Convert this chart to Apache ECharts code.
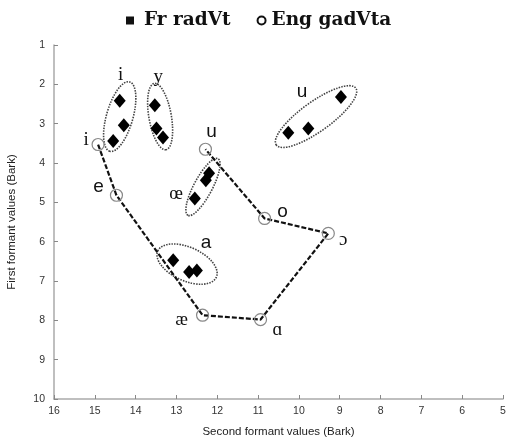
<!DOCTYPE html>
<html>
<head>
<meta charset="utf-8">
<script src="https://cdn.jsdelivr.net/npm/echarts@6/dist/echarts.min.js"></script>
<style>html,body{margin:0;padding:0;background:#fff}#c{width:506px;height:439px}</style>
</head>
<body>
<div id="c"></div>
<script>
// ---- Data (Bark) ----
const xTicks = [5,6,7,8,9,10,11,12,13,14,15,16];
const yTicks = [1,2,3,4,5,6,7,8,9,10];

// French radVt tokens: [F2, F1]
const frI  = [[14.39,2.42],[14.29,3.04],[14.55,3.44]];
const frY  = [[13.53,2.53],[13.49,3.12],[13.33,3.35]];
const frOE = [[12.20,4.26],[12.28,4.44],[12.55,4.90]];
const frA  = [[13.08,6.47],[12.69,6.77],[12.50,6.73]];
const frU  = [[10.26,3.23],[9.77,3.12],[8.97,2.32]];

// English gadVta means, in path order
const engNames = ['i','e','æ','ɑ','ɔ','o','u'];
const engF2    = [14.92,14.47,12.36,10.94,9.28,10.84,12.29];
const engF1    = [3.53,4.82,7.87,7.98,5.79,5.41,3.65];

// French cluster regions: [name, centreF2, centreF1, semiMajor, semiMinor, angleDeg]
const clusterNames = ['i','y','œ','a','u'];
const clusterCx    = [14.39,13.40,12.35,12.74,9.58];
const clusterCy    = [2.82,2.82,4.61,6.57,2.82];
const clusterMajor = [0.90,0.84,0.80,0.80,1.22];
const clusterMinor = [0.33,0.28,0.23,0.42,0.37];
const clusterAngle = [74,100,62,-24,35.6];

// ---- Styles ----
const SERIF = '"Liberation Serif", "Times New Roman", serif';
const SANS = '"Liberation Sans", Arial, sans-serif';
const engLabelStyle = {
  'i': {off:[-12,-4], font:SERIF},
  'e': {off:[-18,-8], font:SANS},
  'æ': {off:[-21,5], font:SERIF},
  'ɑ': {off:[17,10], font:SERIF},
  'ɔ': {off:[15,7], font:SERIF},
  'o': {off:[18,-7], font:SANS},
  'u': {off:[6,-17], font:SANS}
};
const clusterLabelStyle = {
  'i': {off:[1,-42], font:SERIF},
  'y': {off:[-2,-40], font:SERIF},
  'œ': {off:[-27,7], font:SERIF},
  'a': {off:[19,-21], font:SANS},
  'u': {off:[-14,-25], font:SANS}
};

const frAll = [].concat(frI, frY, frOE, frA, frU);
const engData = engNames.map((n,i)=>({
  name:n, value:[engF2[i], engF1[i]],
  label:{show:true, formatter:'{b}', position:'inside', offset:engLabelStyle[n].off,
         fontFamily:engLabelStyle[n].font, fontSize:19, color:'#111'}
}));
const clusterData = clusterNames.map((n,i)=>[clusterCx[i],clusterCy[i],clusterMajor[i],clusterMinor[i],clusterAngle[i],i]);

const chart = echarts.init(document.getElementById('c'), null, {renderer:'canvas'});
const axisCommon = {
  type:'value', splitLine:{show:false},
  axisLine:{show:true, lineStyle:{color:'#aaa', width:1.5}},
  axisTick:{show:true, inside:true, length:4, lineStyle:{color:'#888'}},
  axisLabel:{color:'#333', fontSize:10.5, fontFamily:SANS},
  nameLocation:'middle',
  nameTextStyle:{color:'#222', fontSize:11.5, fontFamily:SANS}
};
chart.setOption({
  animation:false,
  backgroundColor:'#fff',
  legend:{
    left:121, top:6, itemWidth:8, itemHeight:8, itemGap:26,
    textStyle:{fontFamily:'"DejaVu Serif", serif', fontWeight:'bold', fontSize:18.5, color:'#111'},
    data:[
      {name:'Fr radVt', icon:'rect', itemStyle:{color:'#111', borderWidth:0, opacity:1}, textStyle:{padding:[0,0,0,5]}},
      {name:'Eng gadVta', icon:'circle', itemStyle:{color:'rgba(255,255,255,0)', borderColor:'#111', borderWidth:2, opacity:1}, textStyle:{padding:[0,0,0,1]}}
    ]
  },
  grid:{left:54, right:3, top:45, bottom:40, containLabel:false, outerBoundsMode:'none'},
  xAxis:Object.assign({}, axisCommon, {
    inverse:true, min:5, max:16, interval:1,
    name:'Second formant values (Bark)', nameGap:27,
    axisLabel:Object.assign({}, axisCommon.axisLabel, {margin:7})
  }),
  yAxis:Object.assign({}, axisCommon, {
    inverse:true, min:1, max:10, interval:1,
    name:'First formant values (Bark)', nameGap:36,
    axisLabel:Object.assign({}, axisCommon.axisLabel, {margin:9})
  }),
  series:[
    {
      type:'custom', name:'clusters', silent:true, z:1,
      renderItem:function(params, api){
        const c = api.coord([api.value(0), api.value(1)]);
        const s = api.size([1,1]);
        const k = (s[0]+s[1])/2;
        const idx = api.value(5);
        const nm = clusterNames[idx];
        const st = clusterLabelStyle[nm];
        return {
          type:'group',
          children:[
            {type:'ellipse', x:c[0], y:c[1], rotation:api.value(4)*Math.PI/180,
             shape:{cx:0, cy:0, rx:api.value(2)*k, ry:api.value(3)*k},
             style:{fill:'none', stroke:'#444', lineWidth:1.6, lineDash:[1.5,1.2]}},
            {type:'text', x:c[0]+st.off[0], y:c[1]+st.off[1],
             style:{text:nm, fill:'#111', font:'19px '+st.font, align:'center', verticalAlign:'middle'}}
          ]
        };
      },
      data:clusterData
    },
    {
      type:'line', name:'path', data:engNames.map((n,i)=>[engF2[i],engF1[i]]),
      symbol:'none', z:2, silent:true,
      lineStyle:{color:'#111', width:2.2, type:[5,2]}
    },
    {
      type:'scatter', name:'Fr radVt', data:frAll, symbol:'diamond', symbolSize:[12,14], z:3,
      itemStyle:{color:'#000', opacity:1}
    },
    {
      type:'scatter', name:'Eng gadVta', data:engData, symbol:'circle', symbolSize:12, z:4,
      itemStyle:{color:'rgba(255,255,255,0)', borderColor:'#888', borderWidth:1.2, opacity:1}
    }
  ]
});
</script>
</body>
</html>
